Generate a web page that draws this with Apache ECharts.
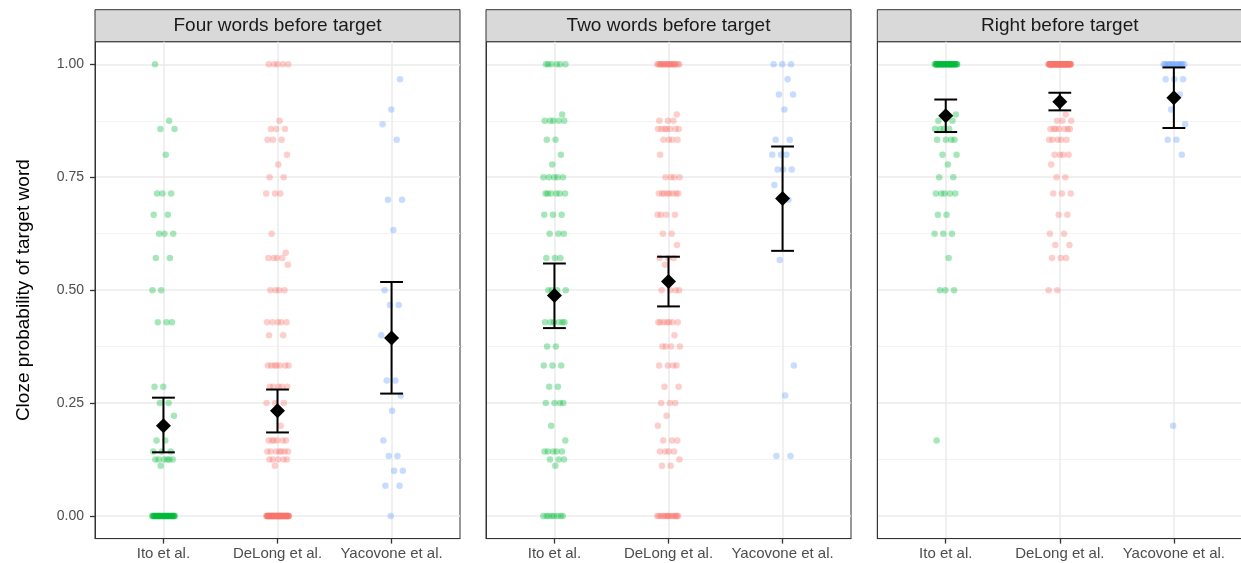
<!DOCTYPE html>
<html>
<head>
<meta charset="utf-8">
<script src="https://cdn.jsdelivr.net/npm/echarts@6/dist/echarts.min.js"></script>
<style>
  html, body { margin: 0; padding: 0; background: #ffffff; }
  #chart { width: 1241px; height: 563px; }
</style>
</head>
<body>
<div id="chart"></div>
<script>
// Studies (x categories) and target positions (facets)
const studies = ['Ito et al.', 'DeLong et al.', 'Yacovone et al.'];
const positions = ['Four words before target', 'Two words before target', 'Right before target'];
const yTicks = [0, 0.25, 0.5, 0.75, 1];
const yMinorTicks = [0.125, 0.375, 0.625, 0.875];

// Item-level cloze probabilities, as [cloze value, number of items]
const fourIto = [[1,1],[0.875,1],[0.857,2],[0.8,1],[0.714,3],[0.667,2],[0.625,3],[0.571,2],[0.5,2],[0.429,3],[0.286,2],[0.25,2],[0.222,1],[0.167,2],[0.143,3],[0.125,6],[0.111,1],[0,43]];
const fourDeLong = [[1,5],[0.875,1],[0.857,3],[0.833,3],[0.8,1],[0.778,1],[0.75,2],[0.714,3],[0.625,1],[0.583,1],[0.571,4],[0.556,1],[0.5,4],[0.429,5],[0.4,2],[0.333,7],[0.286,5],[0.25,3],[0.2,1],[0.167,6],[0.143,7],[0.125,5],[0.111,1],[0,66]];
const fourYacovone = [[0.967,1],[0.9,1],[0.867,1],[0.833,1],[0.7,2],[0.633,1],[0.5,1],[0.467,2],[0.4,1],[0.3,2],[0.267,1],[0.233,1],[0.167,1],[0.133,2],[0.1,2],[0.067,2],[0,1]];

const twoIto = [[1,6],[0.889,1],[0.875,5],[0.833,2],[0.8,1],[0.778,1],[0.75,5],[0.714,6],[0.667,3],[0.625,3],[0.571,3],[0.5,4],[0.429,6],[0.375,2],[0.333,3],[0.286,2],[0.25,4],[0.2,1],[0.167,1],[0.143,5],[0.125,3],[0.111,1],[0,8]];
const twoDeLong = [[1,20],[0.889,1],[0.875,3],[0.857,7],[0.833,4],[0.8,1],[0.75,4],[0.714,8],[0.667,4],[0.625,2],[0.6,1],[0.571,3],[0.556,1],[0.5,4],[0.429,7],[0.4,1],[0.375,4],[0.333,4],[0.286,2],[0.25,3],[0.222,1],[0.2,1],[0.167,3],[0.143,4],[0.125,1],[0.111,2],[0,15]];
const twoYacovone = [[1,3],[0.967,1],[0.933,2],[0.9,1],[0.833,2],[0.8,3],[0.767,3],[0.733,1],[0.7,1],[0.567,1],[0.333,1],[0.267,1],[0.133,2]];

const rightIto = [[1,45],[0.889,2],[0.875,2],[0.857,4],[0.833,4],[0.8,2],[0.778,1],[0.75,2],[0.714,5],[0.667,2],[0.625,3],[0.571,1],[0.5,3],[0.167,1]];
const rightDeLong = [[1,70],[0.889,1],[0.875,3],[0.857,7],[0.833,5],[0.8,4],[0.778,1],[0.75,2],[0.714,3],[0.667,2],[0.625,2],[0.6,2],[0.571,3],[0.5,2]];
const rightYacovone = [[1,13],[0.967,3],[0.933,1],[0.9,1],[0.867,1],[0.833,2],[0.8,1],[0.2,1]];

// Mean cloze and 95% CI per study: [mean, lower, upper]
const fourStats = [[0.200,0.141,0.262],[0.233,0.185,0.280],[0.394,0.271,0.518]];
const twoStats = [[0.488,0.416,0.559],[0.519,0.464,0.574],[0.703,0.587,0.818]];
const rightStats = [[0.886,0.850,0.922],[0.917,0.898,0.937],[0.926,0.859,0.993]];

const panelItems = [
  [fourIto, fourDeLong, fourYacovone],
  [twoIto, twoDeLong, twoYacovone],
  [rightIto, rightDeLong, rightYacovone]
];
const panelStats = [fourStats, twoStats, rightStats];

// ---- appearance ----
const FONT = '"Liberation Sans", Arial, Helvetica, sans-serif';
const studyColors = ['#00BA38', '#F8766D', '#619CFF'];
const panelLeft = [95, 486, 877.3];
const panelWidth = 365;
const panelTop = 41.7;
const panelHeight = 496.9;
const stripTop = 9.7;
const jitterHalf = 0.1;   // horizontal jitter, in category units
const capHalf = 0.1;      // half width of error-bar caps
const frameLine = { color: '#333333', width: 1 };
const tickLine = { color: '#333333', width: 1.3 };

// Deterministic horizontal jitter around each study's position
function jitterPoints(items, catIndex) {
  const pts = [];
  let k = 0;
  items.forEach(([v, n]) => {
    for (let i = 0; i < n; i++) {
      const u = ((k * 0.6180339887 + 0.37 * catIndex + 0.13) % 1);
      pts.push([catIndex + 1 + (u - 0.5) * 2 * jitterHalf, v]);
      k++;
    }
  });
  return pts;
}

const grids = [], xAxes = [], yAxes = [], series = [], graphics = [];

positions.forEach((title, p) => {
  grids.push({
    left: panelLeft[p], top: panelTop, width: panelWidth, height: panelHeight,
    show: true, backgroundColor: '#ffffff', borderColor: '#333333', borderWidth: 1,
    containLabel: false, outerBoundsMode: 'none'
  });

  xAxes.push({
    gridIndex: p, type: 'value', min: 0.4, max: 3.6, position: 'bottom',
    axisLine: { show: true, onZero: false, lineStyle: frameLine },
    axisTick: { show: true, customValues: [1, 2, 3], length: 5, lineStyle: tickLine },
    axisLabel: {
      customValues: [1, 2, 3], color: '#4D4D4D', fontSize: 15, fontFamily: FONT, margin: 8,
      formatter: v => studies[Math.round(v) - 1]
    },
    splitLine: { show: true, lineStyle: { color: '#EBEBEB', width: 1.5 } }
  });

  // major y axis (labels, ticks and major grid)
  yAxes.push({
    gridIndex: p, type: 'value', min: -0.05, max: 1.05, position: 'left',
    axisLine: { show: true, onZero: false, lineStyle: frameLine },
    axisTick: { show: p === 0, customValues: yTicks, length: 5, lineStyle: tickLine },
    axisLabel: {
      show: p === 0, customValues: yTicks, color: '#4D4D4D', fontSize: 14, fontFamily: FONT, margin: 11,
      formatter: v => v.toFixed(2)
    },
    splitLine: { show: true, lineStyle: { color: '#EBEBEB', width: 1.5 } },
    name: p === 0 ? 'Cloze probability of target word' : '',
    nameLocation: 'middle', nameGap: 62,
    nameTextStyle: { color: '#000000', fontSize: 19, fontFamily: FONT }
  });
  // minor y grid
  yAxes.push({
    gridIndex: p, type: 'value', min: -0.05, max: 1.05, position: 'left',
    axisLine: { show: false, onZero: false },
    axisTick: { show: false, customValues: yMinorTicks },
    axisLabel: { show: false, customValues: yMinorTicks },
    splitLine: { show: true, lineStyle: { color: '#F2F2F2', width: 0.9 } }
  });

  // item points
  panelItems[p].forEach((items, s) => {
    series.push({
      type: 'scatter', xAxisIndex: p, yAxisIndex: 2 * p,
      data: jitterPoints(items, s),
      symbol: 'circle', symbolSize: 6.5,
      itemStyle: { color: studyColors[s], opacity: 0.35 },
      silent: true, z: 2
    });
  });

  // 95% CI error bars
  series.push({
    type: 'custom', xAxisIndex: p, yAxisIndex: 2 * p,
    data: panelStats[p].map((st, s) => [s + 1, st[1], st[2]]),
    encode: { x: 0, y: [1, 2] },
    renderItem: (params, api) => {
      const x = api.value(0), lo = api.value(1), hi = api.value(2);
      const top = api.coord([x, hi]), bot = api.coord([x, lo]);
      const tl = api.coord([x - capHalf, hi]), tr = api.coord([x + capHalf, hi]);
      const bl = api.coord([x - capHalf, lo]), br = api.coord([x + capHalf, lo]);
      const st = { stroke: '#000000', lineWidth: 2 };
      return {
        type: 'group',
        children: [
          { type: 'line', shape: { x1: top[0], y1: top[1], x2: bot[0], y2: bot[1] }, style: st },
          { type: 'line', shape: { x1: tl[0], y1: tl[1], x2: tr[0], y2: tr[1] }, style: st },
          { type: 'line', shape: { x1: bl[0], y1: bl[1], x2: br[0], y2: br[1] }, style: st }
        ]
      };
    },
    silent: true, z: 3
  });

  // means
  series.push({
    type: 'scatter', xAxisIndex: p, yAxisIndex: 2 * p,
    data: panelStats[p].map((st, s) => [s + 1, st[0]]),
    symbol: 'diamond', symbolSize: 15,
    itemStyle: { color: '#000000', opacity: 1 },
    silent: true, z: 4
  });

  // facet strip
  graphics.push({
    type: 'rect',
    shape: { x: panelLeft[p], y: stripTop, width: panelWidth, height: panelTop - stripTop },
    style: { fill: '#D9D9D9', stroke: '#333333', lineWidth: 1 },
    silent: true
  });
  graphics.push({
    type: 'text',
    x: panelLeft[p] + panelWidth / 2, y: (stripTop + panelTop) / 2 + 0.5,
    style: { text: title, fill: '#1A1A1A', font: '19px ' + FONT, textAlign: 'center', textVerticalAlign: 'middle' },
    silent: true
  });
});

const chart = echarts.init(document.getElementById('chart'), null, { renderer: 'canvas' });
chart.setOption({
  animation: false,
  backgroundColor: '#ffffff',
  grid: grids,
  xAxis: xAxes,
  yAxis: yAxes,
  series: series,
  graphic: graphics
});
</script>
</body>
</html>
